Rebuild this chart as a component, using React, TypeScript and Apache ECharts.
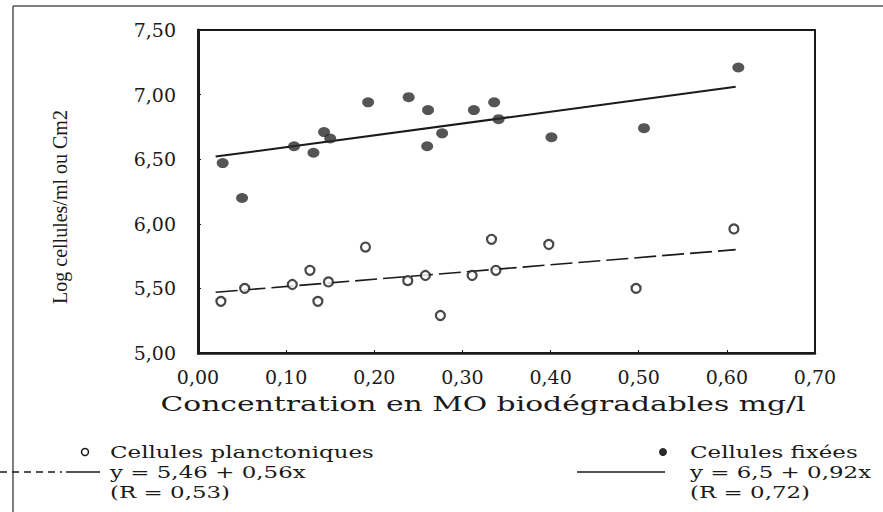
import React, { useEffect, useRef } from "react";
import * as echarts from "echarts";

// Cellules planctoniques (open circles): [MO mg/l, log cellules]
const planktonX = [0.026, 0.053, 0.107, 0.127, 0.136, 0.148, 0.19, 0.238, 0.258, 0.275, 0.311, 0.333, 0.338, 0.398, 0.497, 0.608];
const planktonY = [5.40, 5.50, 5.53, 5.64, 5.40, 5.55, 5.82, 5.56, 5.60, 5.29, 5.60, 5.88, 5.64, 5.84, 5.50, 5.96];

// Cellules fixées (filled circles)
const fixedX = [0.028, 0.05, 0.109, 0.131, 0.143, 0.15, 0.193, 0.239, 0.261, 0.26, 0.277, 0.313, 0.336, 0.341, 0.401, 0.506, 0.613];
const fixedY = [6.47, 6.20, 6.60, 6.55, 6.71, 6.66, 6.94, 6.98, 6.88, 6.60, 6.70, 6.88, 6.94, 6.81, 6.67, 6.74, 7.21];

// Regression line end points as drawn
const planktonFitX = [0.02, 0.61];
const planktonFitY = [5.47, 5.80];
const fixedFitX = [0.02, 0.61];
const fixedFitY = [6.52, 7.06];

const xTicks = [0, 0.1, 0.2, 0.3, 0.4, 0.5, 0.6, 0.7];
const yTicks = [5.0, 5.5, 6.0, 6.5, 7.0, 7.5];

const xTitle = "Concentration en MO biodégradables mg/l";
const yTitle = "Log cellules/ml ou Cm2";
const legendLeft = ["Cellules planctoniques", "y = 5,46 + 0,56x", "(R = 0,53)"];
const legendRight = ["Cellules fixées", "y = 6,5 + 0,92x", "(R = 0,72)"];

const zip = (a: number[], b: number[]) => a.map((v, i) => [v, b[i]]);
const fmt = (v: number) => v.toFixed(2).replace(".", ",");

const SERIF = "DejaVu Serif";
const INK = "#1a1a1a";

export default function App() {
  const ref = useRef<HTMLDivElement>(null);
  useEffect(() => {
    if (!ref.current) return;
    const chart = echarts.init(ref.current, null, { renderer: "svg" });
    const legendText = (x: number, y: number, t: string) => ({
      type: "text",
      x,
      y,
      scaleX: 1.35,
      style: { text: t, fill: INK, font: `17px '${SERIF}'`, textVerticalAlign: "middle" },
    });
    chart.setOption({
      animation: false,
      backgroundColor: "#fff",
      grid: {
        left: 198,
        top: 30,
        right: 68,
        bottom: 159,
        show: true,
        borderColor: INK,
        borderWidth: 2,
      },
      xAxis: {
        type: "value",
        min: xTicks[0],
        max: xTicks[xTicks.length - 1],
        interval: 0.1,
        splitLine: { show: false },
        axisLine: { lineStyle: { color: INK, width: 2.5 } },
        axisTick: { inside: true, length: 3, lineStyle: { color: INK } },
        axisLabel: {
          formatter: fmt,
          color: INK,
          fontFamily: SERIF,
          fontSize: 19,
          margin: 14,
        },
      },
      yAxis: {
        type: "value",
        min: yTicks[0],
        max: yTicks[yTicks.length - 1],
        interval: 0.5,
        splitLine: { show: false },
        axisLine: { lineStyle: { color: INK, width: 3 } },
        axisTick: { inside: true, length: 3, lineStyle: { color: INK } },
        axisLabel: {
          formatter: fmt,
          color: INK,
          fontFamily: SERIF,
          fontSize: 19,
          margin: 22,
        },
      },
      series: [
        {
          type: "scatter",
          data: zip(planktonX, planktonY),
          symbol: "circle",
          symbolSize: 9,
          itemStyle: { color: "#fff", borderColor: INK, borderWidth: 2.2 },
          z: 3,
        },
        {
          type: "scatter",
          data: zip(fixedX, fixedY),
          symbol: "circle",
          symbolSize: [12, 10],
          itemStyle: { color: "#2a2a2a" },
          z: 3,
        },
        {
          type: "line",
          data: zip(planktonFitX, planktonFitY),
          symbol: "none",
          lineStyle: { color: INK, width: 1.6, type: [22, 6] },
          z: 2,
        },
        {
          type: "line",
          data: zip(fixedFitX, fixedFitY),
          symbol: "none",
          lineStyle: { color: INK, width: 2 },
          z: 2,
        },
      ],
      graphic: [
        // outer page frame
        { type: "line", shape: { x1: 13, y1: 6, x2: 883, y2: 6 }, style: { stroke: "#555", lineWidth: 1.5 } },
        { type: "line", shape: { x1: 13, y1: 6, x2: 13, y2: 512 }, style: { stroke: "#555", lineWidth: 1.5 } },
        {
          type: "text",
          x: 60,
          y: 207,
          rotation: Math.PI / 2,
          style: {
            text: yTitle,
            fill: INK,
            font: `20px 'Liberation Serif'`,
            textAlign: "center",
            textVerticalAlign: "middle",
          },
        },
        {
          type: "text",
          x: 483,
          y: 404,
          scaleX: 1.42,
          style: {
            text: xTitle,
            fill: INK,
            font: `21px '${SERIF}'`,
            textAlign: "center",
            textVerticalAlign: "middle",
          },
        },
        // left legend
        { type: "circle", shape: { cx: 85, cy: 452, r: 3.5 }, style: { fill: "#fff", stroke: INK, lineWidth: 1.5 } },
        legendText(110, 452, legendLeft[0]),
        { type: "line", shape: { x1: 0, y1: 472, x2: 62, y2: 472 }, style: { stroke: INK, lineWidth: 1.3, lineDash: [7, 5] } },
        { type: "line", shape: { x1: 66, y1: 472, x2: 100, y2: 472 }, style: { stroke: INK, lineWidth: 1.3 } },
        legendText(110, 472, legendLeft[1]),
        legendText(110, 492, legendLeft[2]),
        // right legend
        { type: "circle", shape: { cx: 663, cy: 452, r: 4 }, style: { fill: "#2a2a2a" } },
        legendText(690, 452, legendRight[0]),
        { type: "line", shape: { x1: 577, y1: 472, x2: 665, y2: 472 }, style: { stroke: INK, lineWidth: 1.3 } },
        legendText(690, 472, legendRight[1]),
        legendText(690, 492, legendRight[2]),
      ],
    });
    return () => chart.dispose();
  }, []);
  return <div ref={ref} style={{ width: 883, height: 512, position: "absolute", left: 0, top: 0 }} />;
}
